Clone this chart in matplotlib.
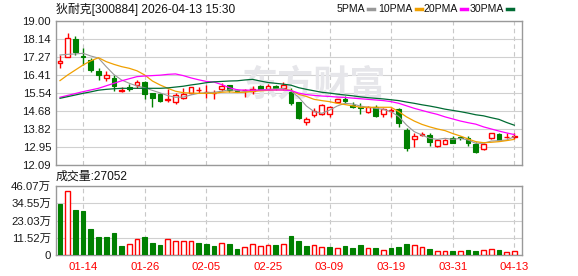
import matplotlib
matplotlib.use("Agg")
import matplotlib.pyplot as plt
from matplotlib.lines import Line2D
import numpy as np

# ---------------- data ----------------
title = "狄耐克[300884] 2026-04-13 15:30"
date_labels = ["01-14", "01-26", "02-05", "02-25", "03-09", "03-19", "03-31", "04-13"]
date_index = [3, 11, 19, 27, 35, 43, 51, 59]
price_ticks = [12.09, 12.95, 13.82, 14.68, 15.54, 16.41, 17.27, 18.14, 19.00]
vol_ticks = [0, 11.52, 23.03, 34.55, 46.07]
vol_tick_labels = ["0", "11.52万", "23.03万", "34.55万", "46.07万"]
last_volume = "27052"
prev_close_before = 17.20

opens = [16.97, 17.29, 18.12, 17.32, 17.13, 16.61, 16.28, 16.25, 15.66, 15.85,
         15.91, 16.09, 15.53, 15.50, 15.19, 15.13, 15.29, 15.53, 15.67, 15.59,
         15.53, 15.72, 15.91, 15.69, 15.67, 15.66, 15.88, 15.75, 15.88, 15.77,
         15.61, 15.13, 14.14, 14.49, 14.54, 14.54, 15.11, 15.24, 14.97, 14.88,
         14.65, 14.86, 14.52, 14.70, 14.76, 13.77, 13.32, 13.53, 13.53, 13.00,
         13.10, 13.37, 13.42, 13.37, 13.10, 12.84, 13.37, 13.58, 13.42, 13.45]
highs = [17.37, 18.44, 18.29, 17.69, 17.21, 16.73, 16.60, 16.41, 15.82, 15.98,
         16.17, 16.12, 15.53, 15.56, 15.72, 15.53, 15.77, 15.84, 15.85, 15.93,
         15.69, 16.01, 15.93, 15.74, 15.72, 15.88, 15.92, 16.00, 15.93, 16.05,
         15.77, 15.13, 14.38, 14.81, 15.02, 14.92, 15.24, 15.40, 15.13, 15.05,
         14.90, 14.97, 14.81, 14.81, 14.81, 13.85, 13.61, 13.66, 13.61, 13.35,
         13.33, 13.50, 13.48, 13.48, 13.21, 13.16, 13.64, 13.61, 13.61, 13.61]
lows = [16.73, 17.26, 17.37, 16.89, 16.54, 16.17, 16.12, 15.65, 15.59, 15.64,
        15.77, 15.27, 14.89, 15.13, 15.13, 15.00, 15.26, 15.50, 15.53, 15.29,
        15.27, 15.65, 15.60, 15.62, 15.34, 15.50, 15.72, 15.70, 15.70, 15.69,
        14.97, 14.29, 14.00, 14.41, 14.50, 14.41, 15.05, 15.08, 14.83, 14.52,
        14.60, 14.40, 14.41, 14.41, 13.93, 12.76, 12.97, 13.49, 13.00, 12.96,
        13.08, 13.14, 13.30, 13.02, 12.68, 12.80, 13.35, 13.27, 13.40, 13.35]
closes = [17.08, 18.17, 17.53, 17.26, 16.65, 16.43, 16.41, 15.89, 15.68, 15.73,
          16.07, 15.50, 15.32, 15.17, 15.27, 15.45, 15.50, 15.82, 15.70, 15.61,
          15.56, 15.90, 15.69, 15.66, 15.70, 15.74, 15.76, 15.88, 15.80, 15.93,
          15.05, 14.33, 14.28, 14.68, 14.97, 14.86, 15.24, 15.17, 14.86, 14.84,
          14.86, 14.44, 14.76, 14.72, 14.09, 12.92, 13.48, 13.58, 13.21, 13.28,
          13.30, 13.16, 13.40, 13.16, 12.73, 13.10, 13.61, 13.29, 13.43, 13.48]
volumes = [33.9, 42.7, 29.9, 29.2, 17.1, 12.3, 12.3, 14.9, 6.3, 7.4,
           10.8, 12.3, 8.3, 6.9, 10.8, 9.6, 9.6, 9.6, 8.3, 7.6,
           6.3, 8.1, 7.6, 4.3, 5.6, 7.4, 6.3, 6.9, 6.9, 7.4,
           13.0, 9.2, 6.3, 6.9, 5.6, 5.6, 4.7, 6.3, 4.9, 6.9,
           4.9, 4.9, 3.6, 4.9, 5.6, 7.6, 6.9, 5.6, 4.3, 2.9,
           2.9, 2.9, 2.9, 3.6, 2.9, 3.6, 4.3, 3.6, 2.0, 2.7]
ma5 = [17.37, 17.40, 17.42, 17.45, 17.32, 17.22, 16.81, 16.43, 16.17, 16.01,
       15.88, 15.80, 15.67, 15.55, 15.42, 15.34, 15.35, 15.45, 15.53, 15.56,
       15.58, 15.63, 15.70, 15.66, 15.62, 15.64, 15.68, 15.72, 15.74, 15.76,
       15.64, 15.34, 14.92, 14.65, 14.57, 14.72, 14.92, 15.05, 15.02, 14.92,
       14.86, 14.81, 14.76, 14.65, 14.41, 14.01, 13.69, 13.53, 13.37, 13.32,
       13.37, 13.32, 13.37, 13.29, 13.13, 13.13, 13.24, 13.26, 13.29, 13.45]
ma10 = [16.14, 16.41, 16.65, 16.89, 17.09, 17.24, 17.05, 16.92, 16.81, 16.73,
        16.61, 16.41, 16.12, 15.93, 15.77, 15.63, 15.56, 15.54, 15.53, 15.53,
        15.53, 15.58, 15.60, 15.57, 15.58, 15.62, 15.65, 15.67, 15.69, 15.69,
        15.68, 15.48, 15.38, 15.24, 15.18, 15.13, 15.05, 14.99, 14.93, 14.86,
        14.86, 14.86, 14.86, 14.86, 14.65, 14.40, 14.20, 14.04, 13.92, 13.82,
        13.74, 13.60, 13.48, 13.34, 13.21, 13.16, 13.18, 13.21, 13.26, 13.32]
ma20 = [15.34, 15.43, 15.52, 15.61, 15.69, 15.77, 15.89, 16.01, 16.13, 16.23,
        16.33, 16.36, 16.38, 16.40, 16.44, 16.46, 16.38, 16.27, 16.18, 16.10,
        16.07, 15.95, 15.80, 15.70, 15.68, 15.68, 15.69, 15.69, 15.69, 15.69,
        15.66, 15.54, 15.47, 15.43, 15.40, 15.38, 15.35, 15.33, 15.30, 15.27,
        15.24, 15.21, 15.18, 15.13, 15.05, 14.93, 14.81, 14.71, 14.61, 14.52,
        14.40, 14.30, 14.20, 14.12, 14.05, 13.92, 13.82, 13.72, 13.63, 13.55]
ma30 = [15.29, 15.37, 15.45, 15.53, 15.60, 15.68, 15.72, 15.75, 15.77, 15.77,
        15.77, 15.77, 15.77, 15.77, 15.79, 15.83, 15.87, 15.93, 15.98, 16.04,
        16.08, 16.10, 16.12, 16.13, 16.17, 16.20, 16.12, 16.05, 16.01, 15.97,
        15.92, 15.80, 15.72, 15.65, 15.58, 15.54, 15.49, 15.45, 15.41, 15.36,
        15.32, 15.29, 15.26, 15.22, 15.18, 15.11, 15.05, 14.98, 14.92, 14.85,
        14.77, 14.71, 14.65, 14.58, 14.50, 14.45, 14.36, 14.28, 14.13, 14.00]

# ---------------- style ----------------
RED = "#ff0000"
GREEN = "#008000"
C5, C10, C20, C30 = "#999999", "#f0a000", "#ff00ff", "#006b33"
FRAME = "#999999"
GRID = "#d0d0d0"
FONT = ["Liberation Sans", "Noto Sans CJK SC", "DejaVu Sans"]
plt.rcParams["font.family"] = FONT

W, H = 578, 276
fig = plt.figure(figsize=(W / 100, H / 100), dpi=100)
fig.patch.set_facecolor("white")

def axrect(l, t, r, b):
    return [l / W, 1 - b / H, (r - l) / W, (b - t) / H]

ax = fig.add_axes(axrect(56, 21, 522, 165))
axv = fig.add_axes(axrect(56, 186, 522, 255))

n = len(closes)
x = np.arange(n)
o = np.array(opens); c = np.array(closes); h = np.array(highs); l = np.array(lows)
up = c >= o
prevc = np.concatenate([[prev_close_before], c[:-1]])
vup = c >= prevc

for a in (ax, axv):
    a.set_xlim(-0.52, 60.0)
    for s in a.spines.values():
        s.set_color(FRAME)
        s.set_linewidth(1.0)
    for xi in date_index:
        a.axvline(xi, color="#c8c8c8", lw=0.8, ls=(0, (4, 3)), zorder=0)
    a.tick_params(axis="both", length=0)

# price panel
ax.set_ylim(price_ticks[0], price_ticks[-1])
ax.set_yticks(price_ticks)
ax.set_yticklabels([f"{v:.2f}" for v in price_ticks], fontsize=8.2, color="#1a1a1a")
for v in price_ticks:
    ax.axhline(v, color=GRID, lw=0.8, zorder=0)
ax.set_xticks([])

# watermark
ax.text(0.555, 0.555, "东方财富", transform=ax.transAxes, fontsize=26,
        color="#e6e6ea", ha="center", va="center", fontweight="bold",
        family=["Noto Sans CJK SC"], zorder=0.5)

# wicks
wick_col = np.where(up, RED, GREEN)
ax.vlines(x, l, h, colors=wick_col, lw=1.0, zorder=2)
body_bottom = np.minimum(o, c)
body_h = np.maximum(np.abs(c - o), 0.025)
ax.bar(x[up], body_h[up], bottom=body_bottom[up], width=0.6,
       facecolor="white", edgecolor=RED, linewidth=1.0, zorder=3)
ax.bar(x[~up], body_h[~up], bottom=body_bottom[~up], width=0.6,
       facecolor=GREEN, edgecolor=GREEN, linewidth=0.8, zorder=3)

ax.plot(x, ma5, color=C5, lw=0.8, zorder=4)
ax.plot(x, ma10, color=C10, lw=0.9, zorder=4)
ax.plot(x, ma20, color=C20, lw=0.9, zorder=4)
ax.plot(x, ma30, color=C30, lw=0.9, zorder=4)

# volume panel
vol = np.array(volumes)
axv.set_ylim(vol_ticks[0], vol_ticks[-1])
axv.set_yticks(vol_ticks)
axv.set_yticklabels(vol_tick_labels, fontsize=8.2, color="#1a1a1a")
for v in vol_ticks:
    axv.axhline(v, color=GRID, lw=0.8, zorder=0)
axv.bar(x[vup], vol[vup], width=0.6, facecolor="white", edgecolor=RED,
        linewidth=1.0, zorder=3)
axv.bar(x[~vup], vol[~vup], width=0.6, facecolor=GREEN, edgecolor=GREEN,
        linewidth=0.8, zorder=3)
axv.set_xticks(date_index)
axv.set_xticklabels(date_labels, fontsize=8.2, color=RED)
axv.tick_params(axis="x", pad=5)

# texts
fig.text(56 / W, 1 - 9 / H, title, fontsize=8.6, color="#111111", va="center", ha="left")
fig.text(56 / W, 1 - 177 / H, "成交量:" + last_volume, fontsize=8.6, color="#111111",
         va="center", ha="left")

legend_items = [("5PMA", C5, 368), ("10PMA", C10, 416),
                ("20PMA", C20, 461), ("30PMA", C30, 507)]
for lab, col, lx in legend_items:
    fig.text((lx - 3) / W, 1 - 9 / H, lab, fontsize=7.6, color="#111111",
             va="center", ha="right")
    fig.add_artist(Line2D([lx / W, (lx + 6) / W], [1 - 9 / H, 1 - 9 / H],
                          color=col, lw=2.5, transform=fig.transFigure))

fig.savefig("out.png", dpi=100, facecolor="white")
